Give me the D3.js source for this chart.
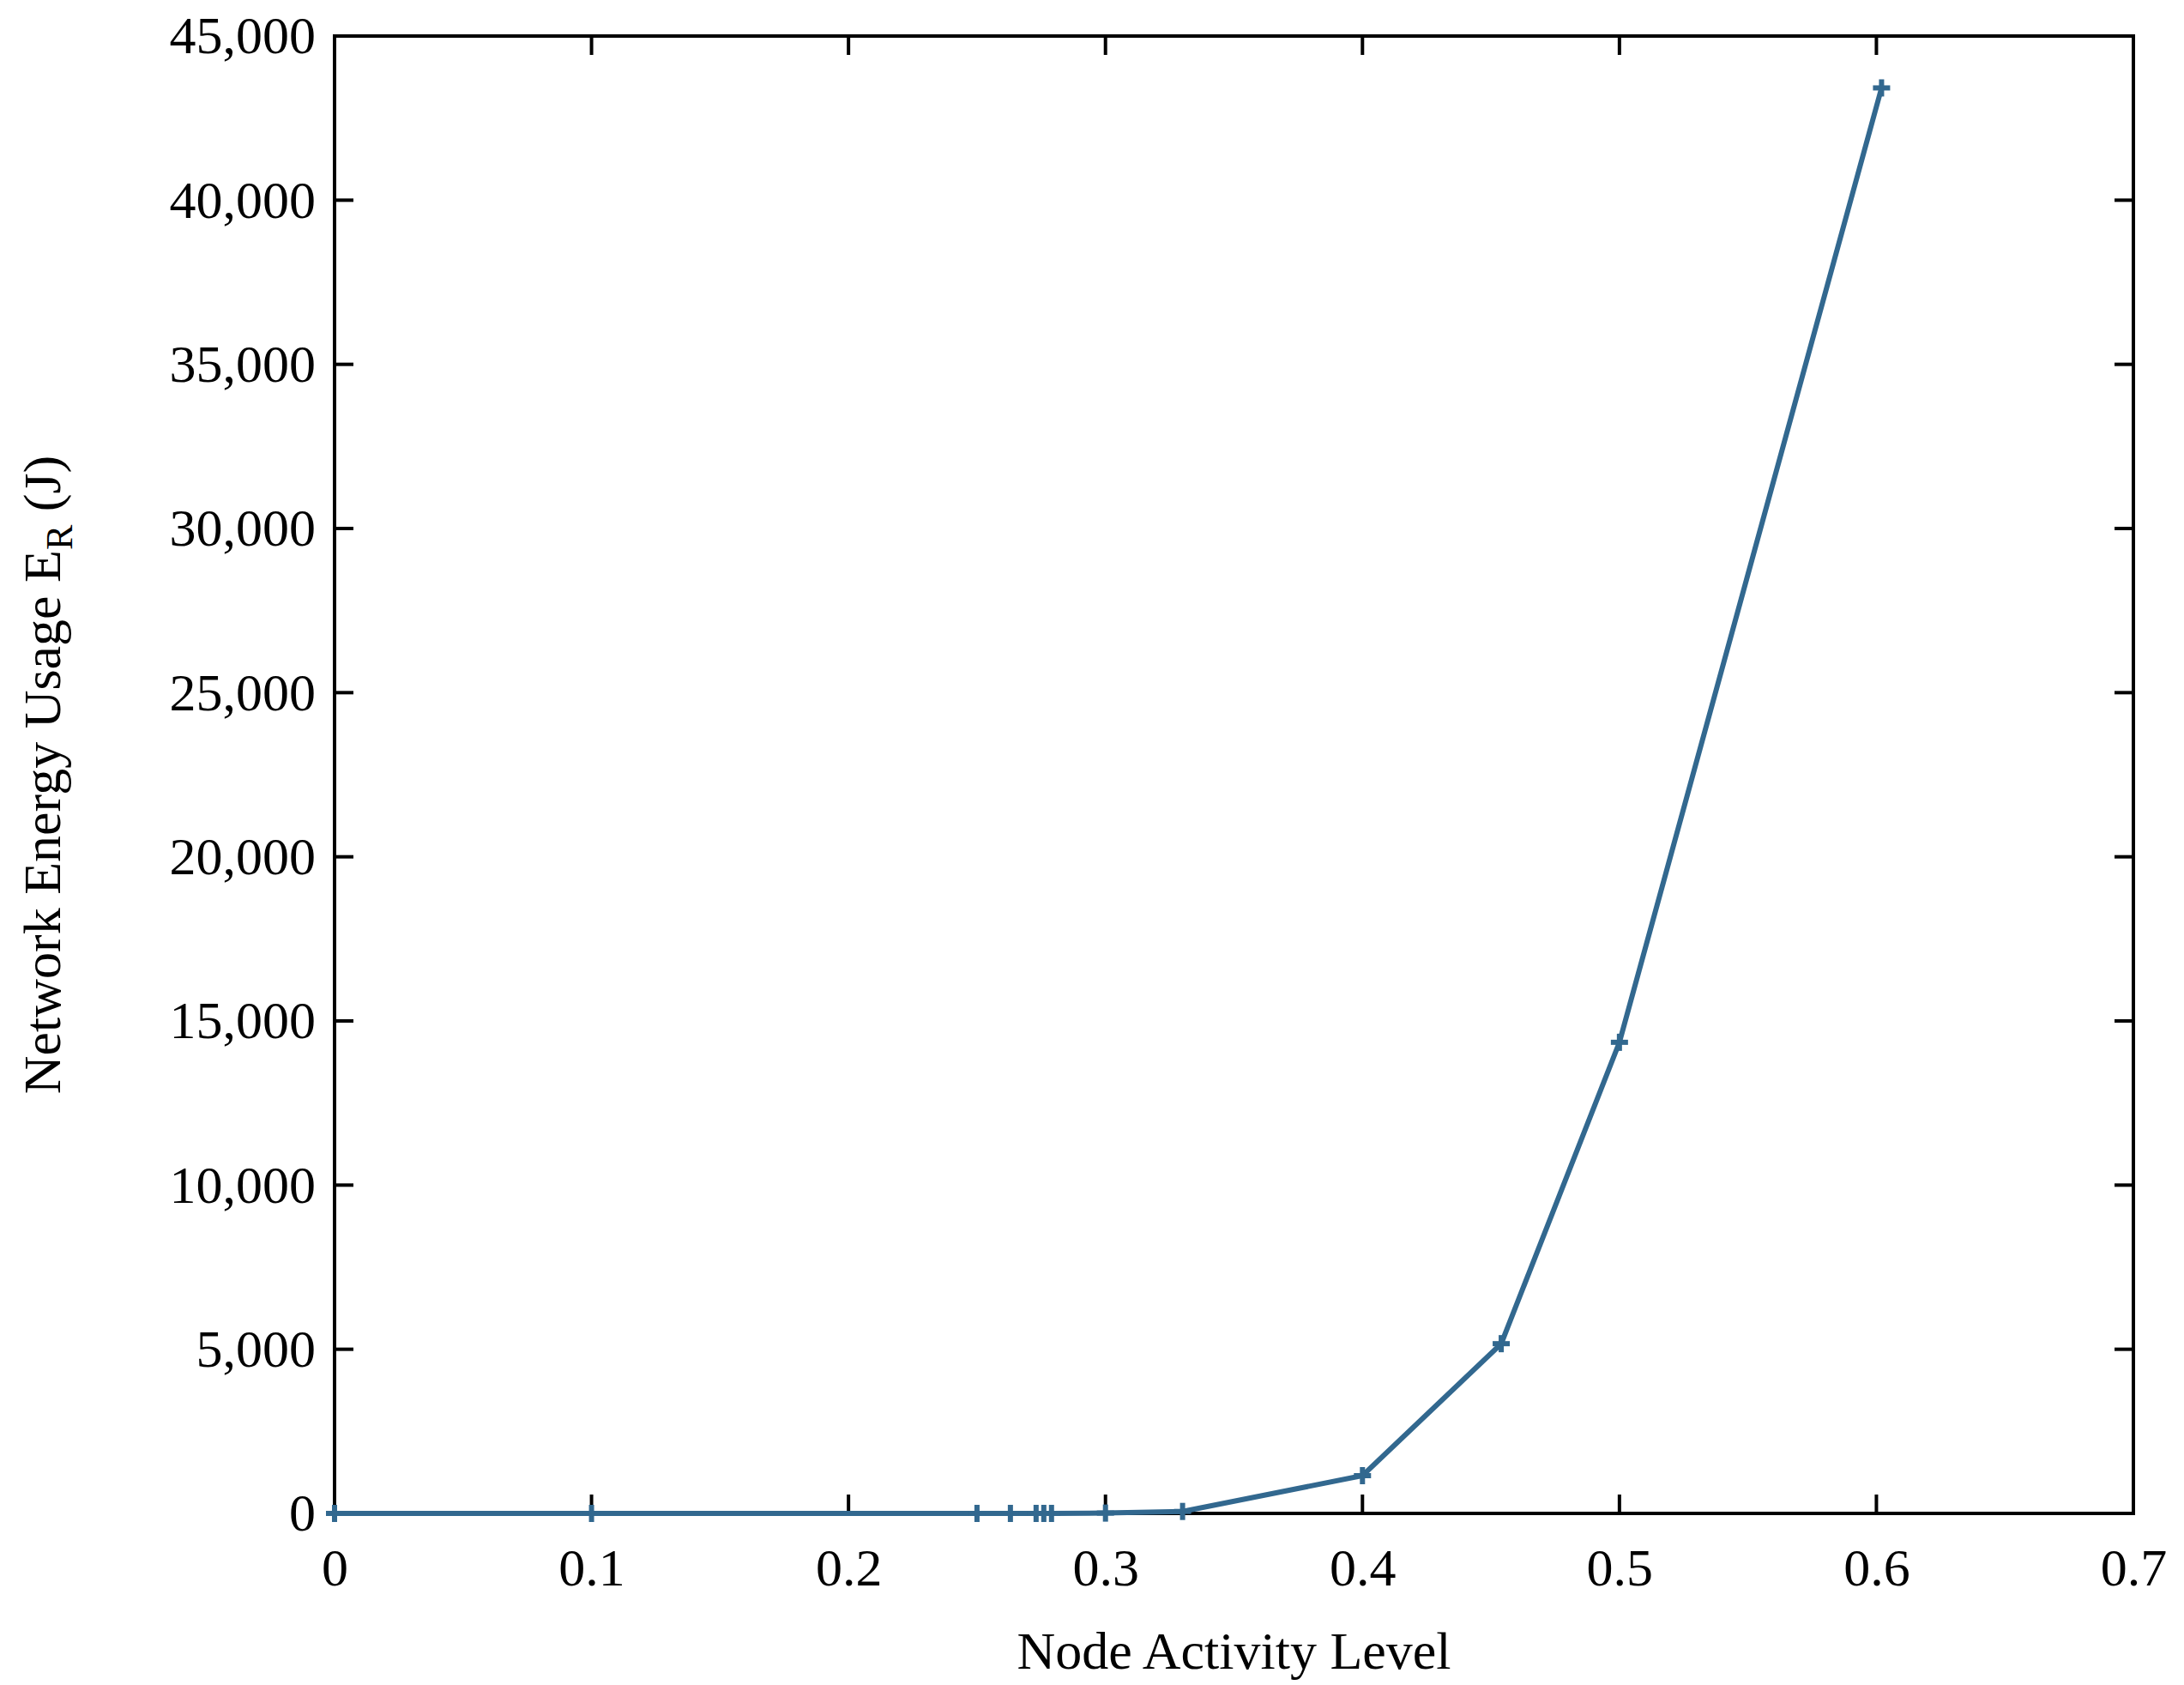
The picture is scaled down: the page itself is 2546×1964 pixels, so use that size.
<!DOCTYPE html>
<html><head><meta charset="utf-8">
<script src="https://cdnjs.cloudflare.com/ajax/libs/d3/7.8.5/d3.min.js"></script>
<style>body{margin:0;background:#fff}text{font-family:"Liberation Serif","DejaVu Serif",serif}</style>
</head><body><svg id="c" width="2546" height="1964"></svg>
<script>
const xValues=[0,0.1,0.25,0.263,0.273,0.276,0.279,0.30,0.33,0.40,0.454,0.50,0.602];
const yValues=[0,0,0,0,0,0,0,10,60,1150,5170,14350,43420];
const xTicks=[0,0.1,0.2,0.3,0.4,0.5,0.6,0.7];
const yTicks=[0,5000,10000,15000,20000,25000,30000,35000,40000,45000];
const svg=d3.select("#c");
const L=390,R=2487,T=42,B=1764;
const x=d3.scaleLinear().domain([0,0.7]).range([L,R]);
const y=d3.scaleLinear().domain([0,45000]).range([B,T]);
const fs=62;
const gx=svg.append("g").attr("transform",`translate(0,${B})`).call(d3.axisBottom(x).tickValues(xTicks).tickFormat(d=>d3.format("")(d)).tickSize(0).tickPadding(40));
const gy=svg.append("g").attr("transform",`translate(${L},0)`).call(d3.axisLeft(y).tickValues(yTicks).tickSize(0).tickPadding(22));
[gx,gy].forEach(g=>{g.select(".domain").remove();g.selectAll("text").attr("font-size",fs).attr("font-family","Liberation Serif").attr("fill","#000");});
gx.selectAll("text").attr("dy","0.71em");
const tk=svg.append("g").attr("stroke","#000").attr("stroke-width",4);
xTicks.slice(1,-1).forEach(v=>{tk.append("line").attr("x1",x(v)).attr("x2",x(v)).attr("y1",B).attr("y2",B-22);tk.append("line").attr("x1",x(v)).attr("x2",x(v)).attr("y1",T).attr("y2",T+22);});
yTicks.slice(1,-1).forEach(v=>{tk.append("line").attr("x1",L).attr("x2",L+22).attr("y1",y(v)).attr("y2",y(v));tk.append("line").attr("x1",R).attr("x2",R-22).attr("y1",y(v)).attr("y2",y(v));});
svg.append("rect").attr("x",L).attr("y",T).attr("width",R-L).attr("height",B-T).attr("fill","none").attr("stroke","#000").attr("stroke-width",4);
const col="#32688f";
const pts=xValues.map((v,i)=>[v,yValues[i]]);
svg.append("path").datum(pts).attr("fill","none").attr("stroke",col).attr("stroke-width",6).attr("d",d3.line().x(d=>x(d[0])).y(d=>y(d[1])));
const m=svg.append("g").attr("stroke",col).attr("stroke-width",6);
pts.forEach(d=>{const px=x(d[0]),py=y(d[1]);m.append("line").attr("x1",px-10).attr("x2",px+10).attr("y1",py).attr("y2",py);m.append("line").attr("x1",px).attr("x2",px).attr("y1",py-10).attr("y2",py+10);});
svg.append("text").attr("x",(L+R)/2).attr("y",1945).attr("text-anchor","middle").attr("font-size",fs).text("Node Activity Level");
const yl=svg.append("text").attr("transform",`translate(70,${(T+B)/2}) rotate(-90)`).attr("text-anchor","middle").attr("font-size",fs);
yl.append("tspan").text("Network Energy Usage E");
yl.append("tspan").attr("font-size",44).attr("dy",14).text("R");
yl.append("tspan").attr("dy",-14).text(" (J)");
</script></body></html>
